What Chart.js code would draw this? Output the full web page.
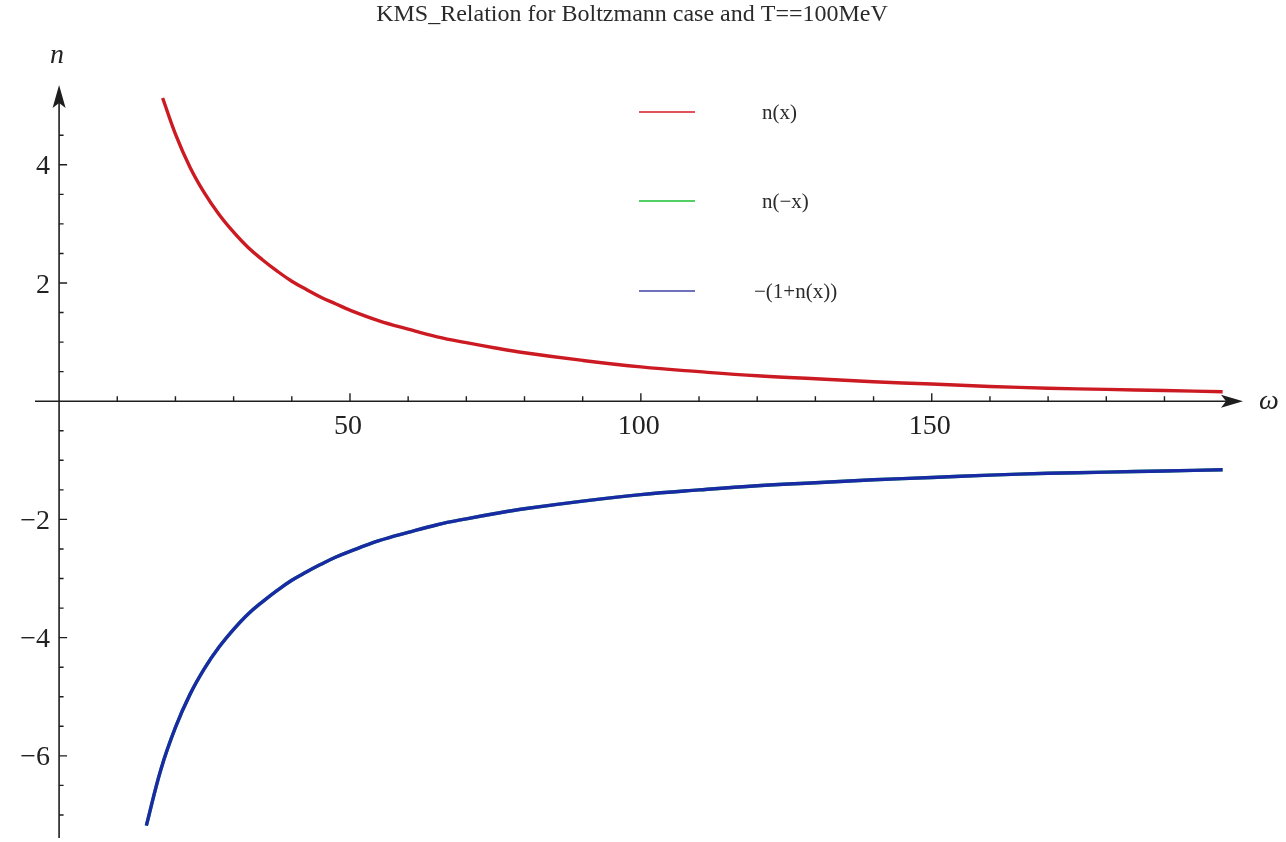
<!DOCTYPE html>
<html>
<head>
<meta charset="utf-8">
<script src="https://cdn.jsdelivr.net/npm/chart.js@4.4.1/dist/chart.umd.min.js"></script>
<style>
  html, body { margin: 0; padding: 0; background: #ffffff; }
  #wrap { width: 1286px; height: 842px; }
</style>
</head>
<body>
<div id="wrap"><canvas id="c" width="1286" height="842"></canvas></div>
<script>
// Bose occupation n(ω) at T = 100 MeV and its KMS partners
const omegaPos = [17.8, 20, 22.5, 25, 27.5, 30, 32.5, 35, 37.5, 40, 42.5, 45, 47.5, 50, 55, 60, 65, 70, 75, 80, 90, 100,
                  110, 120, 130, 140, 150, 160, 170, 180, 190, 200];
const nOfX = [5.13, 4.52, 3.96, 3.52, 3.16, 2.86, 2.60, 2.39, 2.20, 2.03, 1.89, 1.76, 1.65, 1.54, 1.36, 1.22, 1.09, 0.99, 0.90, 0.82, 0.69, 0.58,
              0.50, 0.43, 0.38, 0.33, 0.29, 0.25, 0.22, 0.20, 0.18, 0.16];

const omegaNeg = [15, 17.5, 20, 22.5, 25, 27.5, 30, 32.5, 35, 37.5, 40, 42.5, 45, 47.5, 50, 55, 60, 65, 70, 75, 80, 90, 100,
                  110, 120, 130, 140, 150, 160, 170, 180, 190, 200];
const nOfMinusX = [-7.18, -6.23, -5.52, -4.96, -4.52, -4.16, -3.86, -3.60, -3.39, -3.20, -3.03, -2.89, -2.76, -2.64, -2.54, -2.36, -2.22,
                   -2.09, -1.99, -1.90, -1.82, -1.69, -1.58, -1.50, -1.43, -1.38, -1.33, -1.29, -1.25, -1.22, -1.20, -1.18, -1.16];
const minusOnePlusN = [-7.18, -6.23, -5.52, -4.96, -4.52, -4.16, -3.86, -3.60, -3.39, -3.20, -3.03, -2.89, -2.76, -2.64, -2.54, -2.36, -2.22,
                       -2.09, -1.99, -1.90, -1.82, -1.69, -1.58, -1.50, -1.43, -1.38, -1.33, -1.29, -1.25, -1.22, -1.20, -1.18, -1.16];

const seriesLabels = ['n(x)', 'n(\u2212x)', '\u2212(1+n(x))'];
const chartTitle = 'KMS_Relation for Boltzmann case and T==100MeV';

// axis ticks
const xMajorTicks = [50, 100, 150];
const xMajorLabels = ['50', '100', '150'];
const xMinorTicks = [10, 20, 30, 40, 60, 70, 80, 90, 110, 120, 130, 140, 160, 170, 180, 190];
const yMajorTicks = [-6, -4, -2, 2, 4];
const yMajorLabels = ['\u22126', '\u22124', '\u22122', '2', '4'];
const yMinorTicks = [-7, -6.5, -5.5, -5, -4.5, -3.5, -3, -2.5, -1.5, -1, -0.5, 0.5, 1, 1.5, 2.5, 3, 3.5, 4.5];

const pairs = (xs, ys) => xs.map((x, i) => ({ x: x, y: ys[i] }));

const axesPlugin = {
  id: 'originAxes',
  beforeDatasetsDraw(chart) {
    const ctx = chart.ctx;
    const xs = chart.scales.x, ys = chart.scales.y;
    const x0 = xs.getPixelForValue(0), y0 = ys.getPixelForValue(0);
    const left = chart.chartArea.left, right = chart.chartArea.right;
    const top = chart.chartArea.top, bottom = chart.chartArea.bottom;
    ctx.save();
    ctx.strokeStyle = '#1e1e1e';
    ctx.fillStyle = '#1e1e1e';
    ctx.lineWidth = 1.6;
    // axis lines
    ctx.beginPath();
    ctx.moveTo(left, y0); ctx.lineTo(right - 14, y0);
    ctx.moveTo(x0, bottom); ctx.lineTo(x0, top + 14);
    ctx.stroke();
    // arrowheads
    ctx.beginPath();
    ctx.moveTo(right, y0); ctx.lineTo(right - 22, y0 - 6.5); ctx.lineTo(right - 17, y0); ctx.lineTo(right - 22, y0 + 6.5);
    ctx.closePath(); ctx.fill();
    ctx.beginPath();
    ctx.moveTo(x0, top); ctx.lineTo(x0 - 6.5, top + 23); ctx.lineTo(x0, top + 18); ctx.lineTo(x0 + 6.5, top + 23);
    ctx.closePath(); ctx.fill();
    // x ticks (pointing up)
    ctx.lineWidth = 1.4;
    ctx.beginPath();
    xMinorTicks.forEach(v => { const p = xs.getPixelForValue(v); ctx.moveTo(p, y0); ctx.lineTo(p, y0 - 5); });
    xMajorTicks.forEach(v => { const p = xs.getPixelForValue(v); ctx.moveTo(p, y0); ctx.lineTo(p, y0 - 8); });
    // y ticks (pointing right)
    yMinorTicks.forEach(v => { const p = ys.getPixelForValue(v); ctx.moveTo(x0, p); ctx.lineTo(x0 + 4.5, p); });
    yMajorTicks.forEach(v => { const p = ys.getPixelForValue(v); ctx.moveTo(x0, p); ctx.lineTo(x0 + 8, p); });
    ctx.stroke();
    // tick labels
    ctx.fillStyle = '#222222';
    ctx.font = '28px "Liberation Serif", "Times New Roman", serif';
    ctx.textAlign = 'center';
    ctx.textBaseline = 'alphabetic';
    xMajorTicks.forEach((v, i) => ctx.fillText(xMajorLabels[i], xs.getPixelForValue(v) - 2, y0 + 33));
    ctx.textAlign = 'right';
    yMajorTicks.forEach((v, i) => ctx.fillText(yMajorLabels[i], x0 - 9, ys.getPixelForValue(v) + 9.5));
    // axis names
    ctx.font = 'italic 28px "Liberation Serif", "Times New Roman", serif';
    ctx.textAlign = 'center';
    ctx.fillText('n', x0 - 2, top - 22);
    ctx.textAlign = 'left';
    ctx.fillText('\u03c9', right + 16, y0 + 8);
    // title
    ctx.fillStyle = '#2a2a2a';
    ctx.font = '24px "Liberation Serif", "Times New Roman", serif';
    ctx.textAlign = 'center';
    ctx.fillText(chartTitle, 632, 21);
    ctx.restore();
  },
  afterDraw(chart) {
    // legend block in the upper middle of the plot
    const ctx = chart.ctx;
    const swatch = ['#e0525c', '#52d066', '#6f72b8'];
    const rows = [112, 201, 291];
    ctx.save();
    ctx.font = '21px "Liberation Serif", serif';
    ctx.textAlign = 'left';
    ctx.textBaseline = 'middle';
    seriesLabels.forEach((lab, i) => {
      ctx.strokeStyle = swatch[i];
      ctx.lineWidth = 2.2;
      ctx.beginPath();
      ctx.moveTo(639, rows[i]); ctx.lineTo(695, rows[i]);
      ctx.stroke();
      ctx.fillStyle = '#2a2a2a';
      ctx.fillText(lab, i === 2 ? 754 : 762, rows[i] + 1);
    });
    ctx.restore();
  }
};

new Chart(document.getElementById('c'), {
  type: 'line',
  data: {
    datasets: [
      { label: seriesLabels[0], data: pairs(omegaPos, nOfX), borderColor: '#cc1a22', order: 1 },
      { label: seriesLabels[1], data: pairs(omegaNeg, nOfMinusX), borderColor: '#2fc04a', order: 3 },
      { label: seriesLabels[2], data: pairs(omegaNeg, minusOnePlusN), borderColor: '#1a2aa6', order: 2 }
    ]
  },
  options: {
    responsive: false,
    animation: false,
    devicePixelRatio: 1,
    layout: { padding: { left: 35, right: 43, top: 85, bottom: 4 } },
    elements: {
      line: { borderWidth: 3.4, tension: 0.4, fill: false },
      point: { radius: 0, hoverRadius: 0 }
    },
    scales: {
      x: { type: 'linear', min: -4.14, max: 203.5, display: false },
      y: { type: 'linear', min: -7.39, max: 5.35, display: false }
    },
    plugins: {
      legend: { display: false },
      title: { display: false },
      tooltip: { enabled: false }
    }
  },
  plugins: [axesPlugin]
});
</script>
</body>
</html>
